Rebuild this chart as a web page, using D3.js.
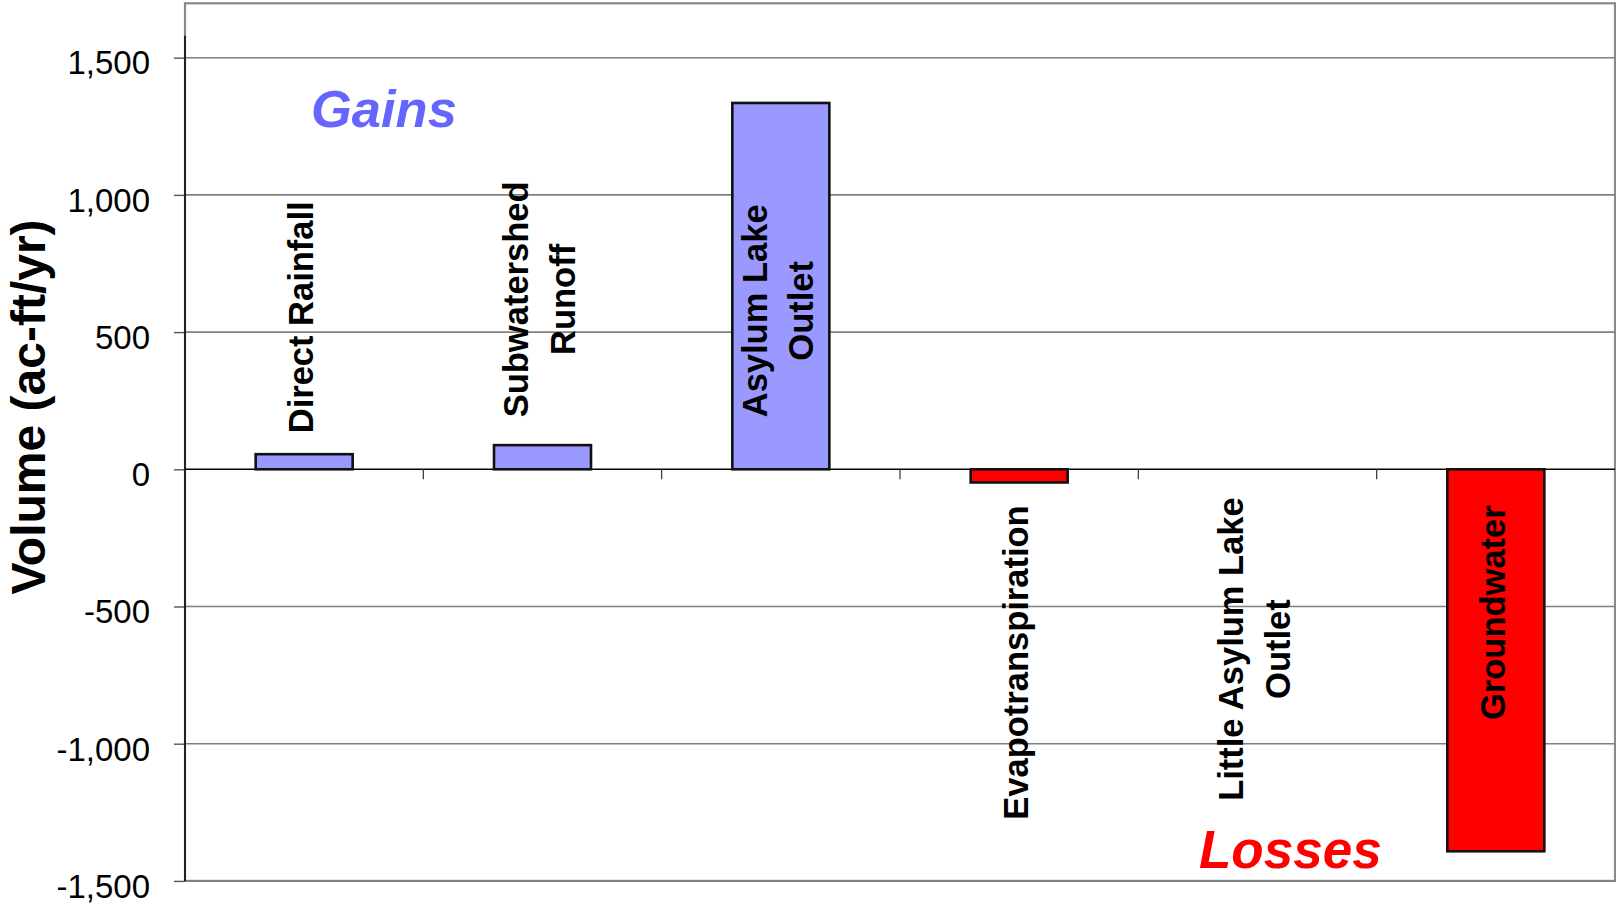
<!DOCTYPE html>
<html>
<head>
<meta charset="utf-8">
<script src="https://cdn.jsdelivr.net/npm/d3@7"></script>
<style>
  html, body { margin: 0; padding: 0; background: #fff; }
  svg { display: block; }
  text { font-family: "Liberation Sans", Arial, Helvetica, sans-serif; }
</style>
</head>
<body>
<svg id="chart" width="1616" height="905"></svg>
<script>
// Annual water budget: gains and losses, in acre-feet per year
const categories = [
  "Direct Rainfall",
  "Subwatershed Runoff",
  "Asylum Lake Outlet",
  "Evapotranspiration",
  "Little Asylum Lake Outlet",
  "Groundwater"
];
const labelLines = [
  ["Direct Rainfall"],
  ["Subwatershed", "Runoff"],
  ["Asylum Lake", "Outlet"],
  ["Evapotranspiration"],
  ["Little Asylum Lake", "Outlet"],
  ["Groundwater"]
];
const volumes = [55, 88, 1335, -48, 0, -1392];
const yTickValues = [-1500, -1000, -500, 0, 500, 1000, 1500];
const yDomain = [-1500, 1700];

// ---- layout ----
const plot = { left: 185, right: 1615, top: 2.8, bottom: 880.9 };
const svg = d3.select("#chart");

const x = d3.scaleBand()
  .domain(categories)
  .range([plot.left, plot.right])
  .paddingInner(0.593)
  .paddingOuter(0.2965);

const y = d3.scaleLinear()
  .domain(yDomain)
  .range([plot.bottom, plot.top]);

// thousands separator, plain hyphen for negatives
const fmt = d3.formatLocale({ decimal: ".", thousands: ",", grouping: [3], currency: ["$", ""], minus: "-" }).format(",");
const y0 = y(0);

// plot frame
svg.append("rect")
  .attr("x", plot.left).attr("y", plot.top + 0.5)
  .attr("width", plot.right - plot.left)
  .attr("height", y(-1500) - plot.top - 0.5)
  .attr("fill", "none")
  .attr("stroke", "#8a8a8a")
  .attr("stroke-width", 2.2);

// horizontal gridlines
svg.append("g")
  .selectAll("line")
  .data(yTickValues.filter(v => v !== 0))
  .join("line")
  .attr("x1", plot.left).attr("x2", plot.right)
  .attr("y1", d => y(d)).attr("y2", d => y(d))
  .attr("stroke", "#808080")
  .attr("stroke-width", 1.6);

// y axis
const yAxis = d3.axisLeft(y)
  .tickValues(yTickValues)
  .tickFormat(fmt)
  .tickSize(11)
  .tickPadding(24);
const gy = svg.append("g")
  .attr("transform", `translate(${plot.left},0)`)
  .call(yAxis);
gy.select(".domain").remove();
gy.selectAll(".tick line").attr("stroke", "#555").attr("stroke-width", 1.4);
gy.selectAll(".tick text")
  .attr("font-size", 33)
  .attr("fill", "#000")
  .attr("dy", null)
  .attr("y", 16.3);
svg.append("line")
  .attr("x1", plot.left).attr("x2", plot.left)
  .attr("y1", y(1580)).attr("y2", y(-1500))
  .attr("stroke", "#222")
  .attr("stroke-width", 2);

// zero line with category separators
const boundaries = categories.slice(1).map(c => x(c) - x.step() * x.paddingInner() / 2);
const gx = svg.append("g");
gx.append("line")
  .attr("x1", plot.left).attr("x2", plot.right)
  .attr("y1", y0).attr("y2", y0)
  .attr("stroke", "#000")
  .attr("stroke-width", 1.6);
gx.selectAll("line.sep")
  .data(boundaries)
  .join("line")
  .attr("class", "sep")
  .attr("x1", d => d).attr("x2", d => d)
  .attr("y1", y0).attr("y2", y0 + 10)
  .attr("stroke", "#333")
  .attr("stroke-width", 1.2);

// bars
svg.append("g")
  .selectAll("rect")
  .data(categories.map((c, i) => ({ c, v: volumes[i] })).filter(d => d.v !== 0))
  .join("rect")
  .attr("x", d => x(d.c))
  .attr("width", x.bandwidth())
  .attr("y", d => Math.min(y(d.v), y0))
  .attr("height", d => Math.abs(y(d.v) - y0))
  .attr("fill", d => d.v >= 0 ? "#9999FF" : "#FF0000")
  .attr("stroke", "#111")
  .attr("stroke-width", 2.6);

// category labels, rotated, reading upward
const labelGap = [36, 52, 52, 36, 28, 36];
const lineStep = 46.5;
const labels = svg.append("g");
categories.forEach((c, i) => {
  const lines = labelLines[i];
  const g = labels.append("g");
  const texts = lines.map(t => g.append("text")
    .attr("font-size", 34.5)
    .attr("font-weight", "bold")
    .attr("fill", "#000")
    .attr("text-anchor", "middle")
    .attr("dominant-baseline", "central")
    .text(t));
  const maxLen = d3.max(texts, t => t.node().getComputedTextLength());
  const above = i < 3;
  const cy = above ? y0 - labelGap[i] - maxLen / 2 : y0 + labelGap[i] + maxLen / 2;
  const cx = x(c) + x.bandwidth() / 2 - 3;
  texts.forEach((t, k) => {
    const dx = (k - (lines.length - 1) / 2) * lineStep;
    t.attr("transform", `translate(${cx + dx},${cy}) rotate(-90)`);
  });
});

// y axis title
svg.append("text")
  .attr("transform", `translate(28,407) rotate(-90)`)
  .attr("text-anchor", "middle")
  .attr("dominant-baseline", "central")
  .attr("font-size", 48)
  .attr("font-weight", "bold")
  .attr("fill", "#000")
  .text("Volume (ac-ft/yr)");

// group annotations
svg.append("text")
  .attr("x", 311).attr("y", 127)
  .attr("font-size", 52.5)
  .attr("font-weight", "bold")
  .attr("font-style", "italic")
  .attr("fill", "#6666FF")
  .text("Gains");
svg.append("text")
  .attr("x", 1199).attr("y", 868)
  .attr("font-size", 53)
  .attr("font-weight", "bold")
  .attr("font-style", "italic")
  .attr("fill", "#FF0000")
  .text("Losses");
</script>
</body>
</html>
